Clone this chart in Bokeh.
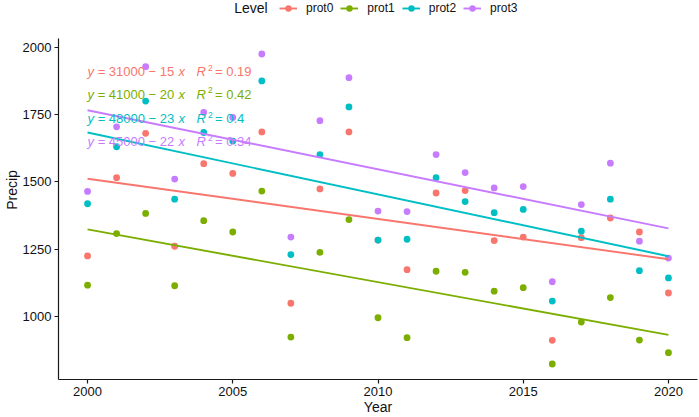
import numpy as np
from bokeh.plotting import figure
from bokeh.models import Range1d, FixedTicker, Legend, LegendItem, Label
from bokeh.embed import file_html
from bokeh.resources import INLINE

# ---------------- data ----------------
years = [2000, 2001, 2002, 2003, 2004, 2005, 2006, 2007, 2008, 2009, 2010,
         2011, 2012, 2013, 2014, 2015, 2016, 2017, 2018, 2019, 2020]
levels = ["prot0", "prot1", "prot2", "prot3"]
prot0 = [1225, 1516, 1681, 1261, 1568, 1532, 1686, 1049, 1474, 1686, 1284,
         1174, 1459, 1468, 1282, 1295, 911, 1293, 1366, 1314, 1087]
prot1 = [1116, 1308, 1383, 1114, 1356, 1314, 1466, 923, 1238, 1360, 995,
         921, 1168, 1164, 1094, 1107, 823, 979, 1070, 912, 865]
prot2 = [1419, 1631, 1801, 1436, 1684, 1652, 1876, 1230, 1602, 1779, 1284,
         1287, 1516, 1427, 1386, 1398, 1057, 1317, 1436, 1170, 1143]
prot3 = [1465, 1705, 1929, 1511, 1759, 1740, 1976, 1295, 1728, 1888, 1392,
         1390, 1602, 1535, 1478, 1483, 1129, 1416, 1570, 1280, 1217]
series = [prot0, prot1, prot2, prot3]
eq_body = ["31000 \u2212 15", "41000 \u2212 20", "48000 \u2212 23", "45000 \u2212 22"]
r2_text = ["0.19", "0.42", "0.4", "0.34"]
x_ticks = [2000, 2005, 2010, 2015, 2020]
y_ticks = [1000, 1250, 1500, 1750, 2000]

colors = ["#F8766D", "#7CAE00", "#00BFC4", "#C77CFF"]
FONT = "Liberation Sans"

# ---------------- ranges (ggplot-like 5% expansion) ----------------
allv = [v for s in series for v in s]
lo, hi = min(allv), max(allv)
pad = 0.05 * (hi - lo)
xpad = 0.05 * (max(years) - min(years))
y0, y1 = float(lo - pad), float(hi + pad)

W, H = 699, 417
BOTTOM = 38          # px below the panel
PANEL = 341          # px height of the data panel
TOPBAND = H - BOTTOM - PANEL   # px above the panel, used for the legend
upp = (y1 - y0) / PANEL         # data units per pixel
ytop = y1 + TOPBAND * upp

p = figure(width=W, height=H, output_backend="svg", toolbar_location=None,
           x_range=Range1d(min(years) - xpad, max(years) + xpad),
           y_range=Range1d(y0, ytop),
           min_border_left=58, min_border_right=2,
           min_border_top=0, min_border_bottom=BOTTOM,
           x_axis_label="Year", y_axis_label="Precip")
p.outline_line_color = None
p.xgrid.grid_line_color = None
p.ygrid.grid_line_color = None
p.yaxis.bounds = (y0, y1)

for ax in (p.xaxis[0], p.yaxis[0]):
    ax.axis_line_color = "#1a1a1a"
    ax.axis_line_width = 1.2
    ax.major_tick_line_color = "#1a1a1a"
    ax.major_tick_line_width = 1.2
    ax.major_tick_out = 4
    ax.major_tick_in = 0
    ax.minor_tick_line_color = None
    ax.major_label_text_font = FONT
    ax.major_label_text_font_size = "13px"
    ax.major_label_text_color = "#111111"
    ax.major_label_standoff = 3
    ax.axis_label_text_font = FONT
    ax.axis_label_text_font_size = "14px"
    ax.axis_label_text_font_style = "normal"
    ax.axis_label_text_color = "#111111"
    ax.axis_label_standoff = 0
p.xaxis.ticker = FixedTicker(ticks=x_ticks)
p.yaxis.ticker = FixedTicker(ticks=y_ticks)

# points first (in level order), then regression lines
scat = []
for s, c in zip(series, colors):
    scat.append(p.scatter(years, s, size=6.8, color=c, line_color=None))

lines = []
xa = np.array(years, dtype=float)
for s, c in zip(series, colors):
    k, b = np.polyfit(xa, np.array(s, dtype=float), 1)
    xs = [min(years), max(years)]
    lines.append(p.line(xs, [float(b + k * x) for x in xs], line_width=1.9, color=c))

# regression equations (pieces so that y, x and R can be italic)
row_y = [1910, 1826, 1735, 1650]
for i, c in enumerate(colors):
    yy = row_y[i]
    parts = [
        ("y", "italic", 0, 0, "13px"),
        ("=", "normal", 10.3, 0, "13px"),
        (eq_body[i], "normal", 21.3, 0, "13px"),
        ("x", "italic", 91.0, 0, "13px"),
        ("R", "italic", 109.0, 0, "13px"),
        ("2", "normal", 120.5, 4.0 * upp, "8.5px"),
        ("= " + r2_text[i], "normal", 127.5, 0, "13px"),
    ]
    for txt, style, xo, yo, fs in parts:
        p.add_layout(Label(x=2000, y=float(yy + yo), x_units="data", y_units="data",
                           text=txt, x_offset=xo, text_font=FONT,
                           text_font_size=fs, text_font_style=style,
                           text_color=c, text_align="left",
                           text_baseline="middle"))

# legend in the band above the data panel
items = [LegendItem(label=lv, renderers=[ln, sc])
         for lv, ln, sc in zip(levels, lines, scat)]
frame_h = H - BOTTOM
legend = Legend(items=items, orientation="horizontal",
                location=(221, frame_h - 16),
                glyph_width=18, glyph_height=16, label_height=16,
                label_standoff=9, spacing=7, padding=0, margin=0,
                border_line_color=None, background_fill_alpha=0,
                label_text_font=FONT, label_text_font_size="12px",
                label_text_color="#111111")
p.add_layout(legend)

p.add_layout(Label(x=2005.05, y=float(y1 + (TOPBAND - 7.5) * upp),
                   x_units="data", y_units="data",
                   text="Level", text_font=FONT, text_font_size="14px",
                   text_color="#111111", text_align="left",
                   text_baseline="middle"))

open("out.html", "w").write(file_html(p, INLINE))
